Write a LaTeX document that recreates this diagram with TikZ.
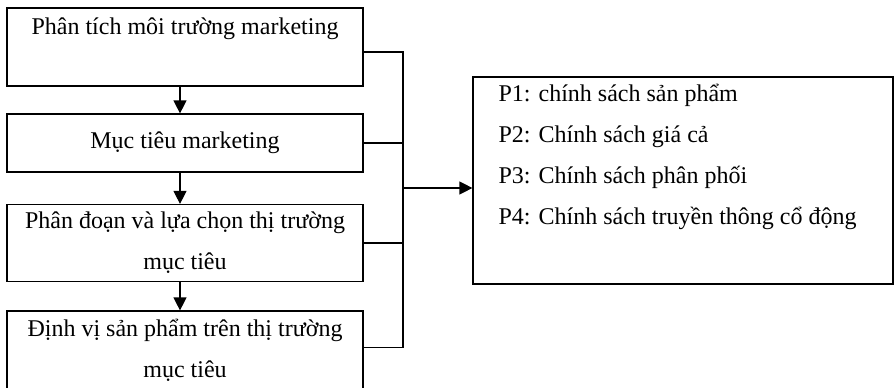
\documentclass[tikz,border=0pt]{standalone}
\usepackage{fontspec}
\setmainfont{Liberation Serif}
\usetikzlibrary{arrows.meta}

\begin{document}
\begin{tikzpicture}[x=1pt, y=-1pt, line width=1.2pt,
		khoi/.style={draw, rectangle, minimum width=356pt, inner sep=0pt, align=center, font=\fontsize{24}{41}\selectfont},
		dong/.style={anchor=base west, inner sep=0pt, font=\fontsize{24}{28}\selectfont},
		>={Triangle[length=13pt, width=13pt]}]
		\useasboundingbox (0,0) rectangle (895,388);
		\node[khoi, minimum height=78pt] (phantich) at (185,47) {Phân tích môi trường marketing\\ \mbox{}};
		\node[khoi, minimum height=58pt] (muctieu) at (185,143) {Mục tiêu marketing};
		\node[khoi, minimum height=77pt] (phandoan) at (185,243) {Phân đoạn và lựa chọn thị trường\\ mục tiêu};
		\node[khoi, minimum height=79pt] (dinhvi) at (185,350.5) {Định vị sản phẩm trên thị trường\\ mục tiêu};
		\node[draw, rectangle, minimum width=420pt, minimum height=207pt] (chinhsach) at (683,180.5) {};
		\foreach \ten [count=\i] in {P1: chính sách sản phẩm, P2: Chính sách giá cả, P3: Chính sách phân phối, P4: Chính sách truyền thông cổ động}
			\node[dong] (p\i) at (498,60+41*\i) {\ten};
		\coordinate (truc) at (403,188);
		\path[->]
			([xshift=-5pt]phantich.south) edge ([xshift=-5pt]muctieu.north) % buoc 1
			([xshift=-5pt]muctieu.south) edge ([xshift=-5pt]phandoan.north) % buoc 2
			([xshift=-5pt]phandoan.south) edge ([xshift=-5pt]dinhvi.north) % buoc 3
			;
		\draw ([yshift=-5pt]phantich.east) -| (truc);
		\draw (muctieu.east) -| (truc);
		\draw (phandoan.east) -| (truc);
		\draw ([yshift=3pt]dinhvi.east) -| (truc);
		\draw[->] (truc) -- (chinhsach.west |- truc);
		\end{tikzpicture}
\end{document}
